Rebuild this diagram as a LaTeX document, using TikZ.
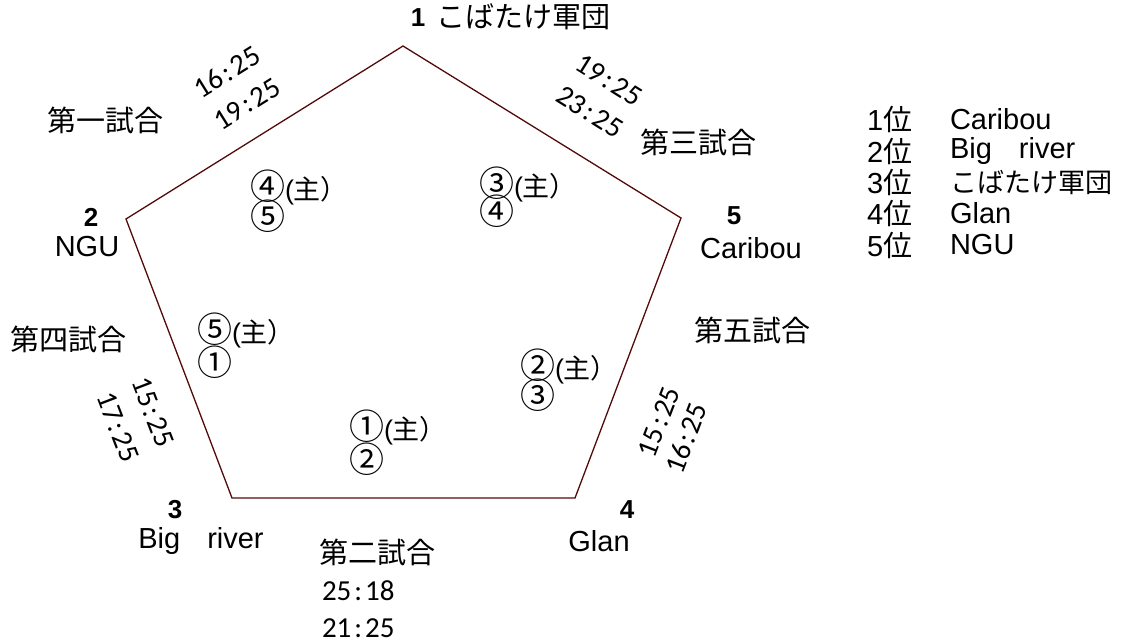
\documentclass[tikz,border=0pt]{standalone}
\usepackage{fontspec}
\setmainfont{Liberation Sans}
\newfontfamily\jp{Noto Sans CJK JP}
\newfontfamily\scorefont{Carlito}
\definecolor{edgecol}{HTML}{520A0A}
\newcommand{\scr}[2]{#1\kern3pt:\kern3pt#2}
\newcommand{\shu}{{\fontsize{27}{30}\selectfont\fontspec{Liberation Sans}(}{\fontsize{27}{30}\selectfont\jp 主）}}
\begin{document}
\begin{tikzpicture}[x=1pt,y=-1pt,
  every node/.style={inner sep=0pt,outer sep=0pt},
  lat/.style={font=\fontsize{29}{34}\selectfont},
  num/.style={font=\fontsize{26}{30}\selectfont\bfseries},
  jpt/.style={font=\fontsize{29}{34}\selectfont\jp},
  circ/.style={font=\fontsize{35}{38}\selectfont\jp,anchor=west},
  score/.style={font=\fontsize{29}{34}\selectfont\scorefont},
  edge/.style={draw=edgecol,line width=1.3pt,line join=miter}]
\useasboundingbox (0,0) rectangle (1122,643);
% vertices
\coordinate (v1) at (403,46);
\coordinate (v2) at (126,219);
\coordinate (v3) at (232,498);
\coordinate (v4) at (575,498);
\coordinate (v5) at (681,218);
\draw[edge] (v1) -- (v2) -- (v3) -- (v4) -- (v5) -- cycle;
% vertex labels
\node[num] (n1) at (418,18) {1};
\node[jpt,anchor=west] (t1) at (436,17) {こばたけ軍団};
\node[num] (n2) at (91,217) {2};
\node[lat] (t2) at (87,247) {NGU};
\node[num] (n3) at (175,510) {3};
\node[lat] (t3) at (201,541) {Big\hspace{27pt}river};
\node[num] (n4) at (627,510) {4};
\node[lat] (t4) at (599,541) {Glan};
\node[num] (n5) at (734,216) {5};
\node[lat] (t5) at (751,248) {Caribou};
% match labels
\node[jpt] (m1) at (105,120) {第一試合};
\node[jpt] (m2) at (377,552) {第二試合};
\node[jpt] (m3) at (698,142) {第三試合};
\node[jpt] (m4) at (68,339) {第四試合};
\node[jpt] (m5) at (752,330) {第五試合};
% scores
\node[score,rotate=32] (s1a) at (227,72) {\scr{16}{25}};
\node[score,rotate=32] (s1b) at (247,104) {\scr{19}{25}};
\node[score,rotate=-32] (s3a) at (609,80) {\scr{19}{25}};
\node[score,rotate=-32] (s3b) at (590,112) {\scr{23}{25}};
\node[score,rotate=-69] (s4a) at (153,412) {\scr{15}{25}};
\node[score,rotate=-69] (s4b) at (118,427) {\scr{17}{25}};
\node[score,rotate=69] (s5a) at (659,422) {\scr{15}{25}};
\node[score,rotate=69] (s5b) at (686,438) {\scr{16}{25}};
\node[score,anchor=west] (s2a) at (322,591) {\scr{25}{18}};
\node[score,anchor=west] (s2b) at (322,628) {\scr{21}{25}};
% inner referee notes
\node[circ] (r1a) at (250,187) {④\shu};
\node[circ] (r1b) at (250,216) {⑤};
\node[circ] (r3a) at (479,184) {③\shu};
\node[circ] (r3b) at (479,211) {④};
\node[circ] (r4a) at (197,330) {⑤\shu};
\node[circ] (r4b) at (197,362) {①};
\node[circ] (r5a) at (520,366) {②\shu};
\node[circ] (r5b) at (520,395) {③};
\node[circ] (r2a) at (349,427) {①\shu};
\node[circ] (r2b) at (349,459) {②};
% ranking
\node[lat,anchor=west] (k1) at (867,119) {1\jp 位};
\node[lat,anchor=west] (k2) at (867,151) {2\jp 位};
\node[lat,anchor=west] (k3) at (867,182) {3\jp 位};
\node[lat,anchor=west] (k4) at (867,213) {4\jp 位};
\node[lat,anchor=west] (k5) at (867,245) {5\jp 位};
\node[lat,anchor=west] (q1) at (950,119) {Caribou};
\node[lat,anchor=west] (q2) at (950,151) {Big\hspace{27pt}river};
\node[jpt,font=\fontsize{27}{32}\selectfont\jp,anchor=west] (q3) at (950,182) {こばたけ軍団};
\node[lat,anchor=west] (q4) at (950,213) {Glan};
\node[lat,anchor=west] (q5) at (950,245) {NGU};
\end{tikzpicture}
\end{document}
